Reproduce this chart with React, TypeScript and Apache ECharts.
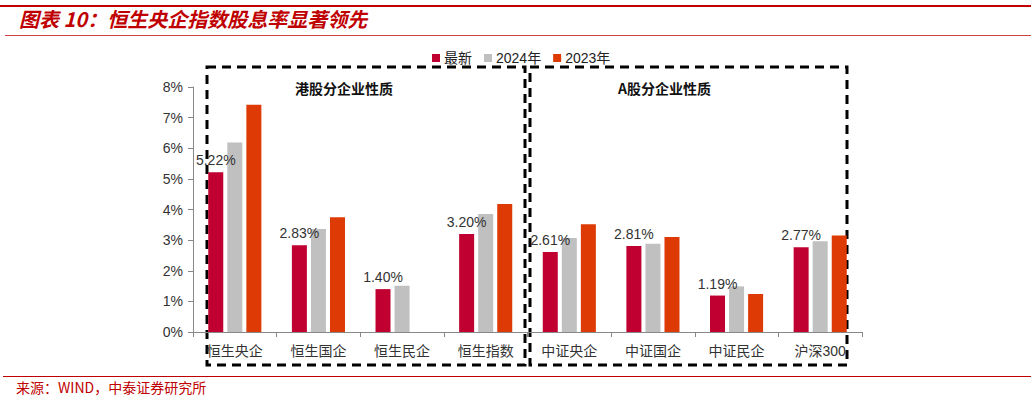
import React, { useEffect, useRef } from "react";
import * as echarts from "echarts";

const categories = ["恒生央企", "恒生国企", "恒生民企", "恒生指数", "中证央企", "中证国企", "中证民企", "沪深300"];
const latest = [5.22, 2.83, 1.40, 3.20, 2.61, 2.81, 1.19, 2.77];
const y2024 = [6.19, 3.36, 1.51, 3.85, 3.07, 2.88, 1.49, 2.96];
const y2023: (number | null)[] = [7.42, 3.75, null, 4.18, 3.52, 3.10, 1.24, 3.15];
const seriesNames = ["最新", "2024年", "2023年"];
const yTicks = [0, 1, 2, 3, 4, 5, 6, 7, 8];

const FONT = "Liberation Sans, Arial, 'Noto Sans CJK SC', sans-serif";
const CJK = "'Noto Sans CJK SC', sans-serif";

export default function App() {
  const ref = useRef<HTMLDivElement>(null);
  useEffect(() => {
    if (!ref.current) return;
    const chart = echarts.init(ref.current, undefined, { renderer: "svg" });
    const dash = { stroke: "#000", lineWidth: 3, lineDash: [9, 6], fill: "none" };
    chart.setOption({
      animation: false,
      backgroundColor: "#fff",
      color: ["#C00030", "#C0C0C0", "#DD3A06"],
      legend: {
        data: seriesNames,
        left: 427,
        top: 46,
        icon: "rect",
        itemWidth: 8,
        itemHeight: 8,
        itemGap: 12,
        textStyle: { fontSize: 14, color: "#222", fontFamily: FONT, padding: [0, 0, 0, -1] },
      },
      grid: { left: 193, right: 169, top: 87, bottom: 68, containLabel: false },
      xAxis: {
        type: "category",
        data: categories,
        axisLine: { lineStyle: { color: "#888", width: 1 } },
        axisTick: { show: true, lineStyle: { color: "#888" }, length: 5 },
        axisLabel: { fontSize: 14, color: "#333", fontFamily: FONT, margin: 12 },
      },
      yAxis: {
        type: "value",
        min: yTicks[0],
        max: yTicks[yTicks.length - 1],
        interval: 1,
        splitLine: { show: false },
        axisLine: { show: true, lineStyle: { color: "#888" } },
        axisTick: { show: true, inside: false, length: 5, lineStyle: { color: "#888" } },
        axisLabel: { fontSize: 14, color: "#333", fontFamily: FONT, formatter: "{value}%", margin: 10 },
      },
      series: [
        {
          name: seriesNames[0],
          type: "bar",
          data: latest,
          barWidth: 15,
          barGap: "27%",
          label: {
            show: true,
            position: "top",
            distance: 5,
            formatter: (p: any) => p.value.toFixed(2) + "%",
            fontSize: 14,
            color: "#333",
            fontFamily: FONT,
          },
        },
        { name: seriesNames[1], type: "bar", data: y2024, barWidth: 15, barGap: "27%" },
        { name: seriesNames[2], type: "bar", data: y2023, barWidth: 15, barGap: "27%" },
      ],
      graphic: [
        { type: "rect", shape: { x: 0, y: 5, width: 1031, height: 2 }, style: { fill: "#C00000" } },
        {
          type: "text",
          x: 19,
          y: 8,
          style: {
            text: "图表 10：恒生央企指数股息率显著领先",
            fill: "#C00000",
            font: "italic bold 20px " + CJK,
          },
        },
        { type: "rect", shape: { x: 5, y: 35, width: 1026, height: 1 }, style: { fill: "#D04040" } },
        { type: "rect", shape: { x: 207, y: 67, width: 318, height: 298 }, style: dash },
        { type: "rect", shape: { x: 530, y: 67, width: 317, height: 298 }, style: dash },
        {
          type: "text",
          x: 295,
          y: 81,
          style: { text: "港股分企业性质", fill: "#111", font: "bold 14px " + CJK },
        },
        {
          type: "text",
          x: 618,
          y: 81,
          style: { text: "A股分企业性质", fill: "#111", font: "bold 14px " + CJK },
        },
        { type: "rect", shape: { x: 3, y: 376, width: 1028, height: 1 }, style: { fill: "#C00000" } },
        {
          type: "text",
          x: 16,
          y: 380,
          style: { text: "来源：WIND，中泰证券研究所", fill: "#C00000", font: "14px " + CJK },
        },
      ],
    });
    return () => chart.dispose();
  }, []);
  return <div ref={ref} style={{ position: "fixed", left: 0, top: 0, width: 1031, height: 400 }} />;
}
